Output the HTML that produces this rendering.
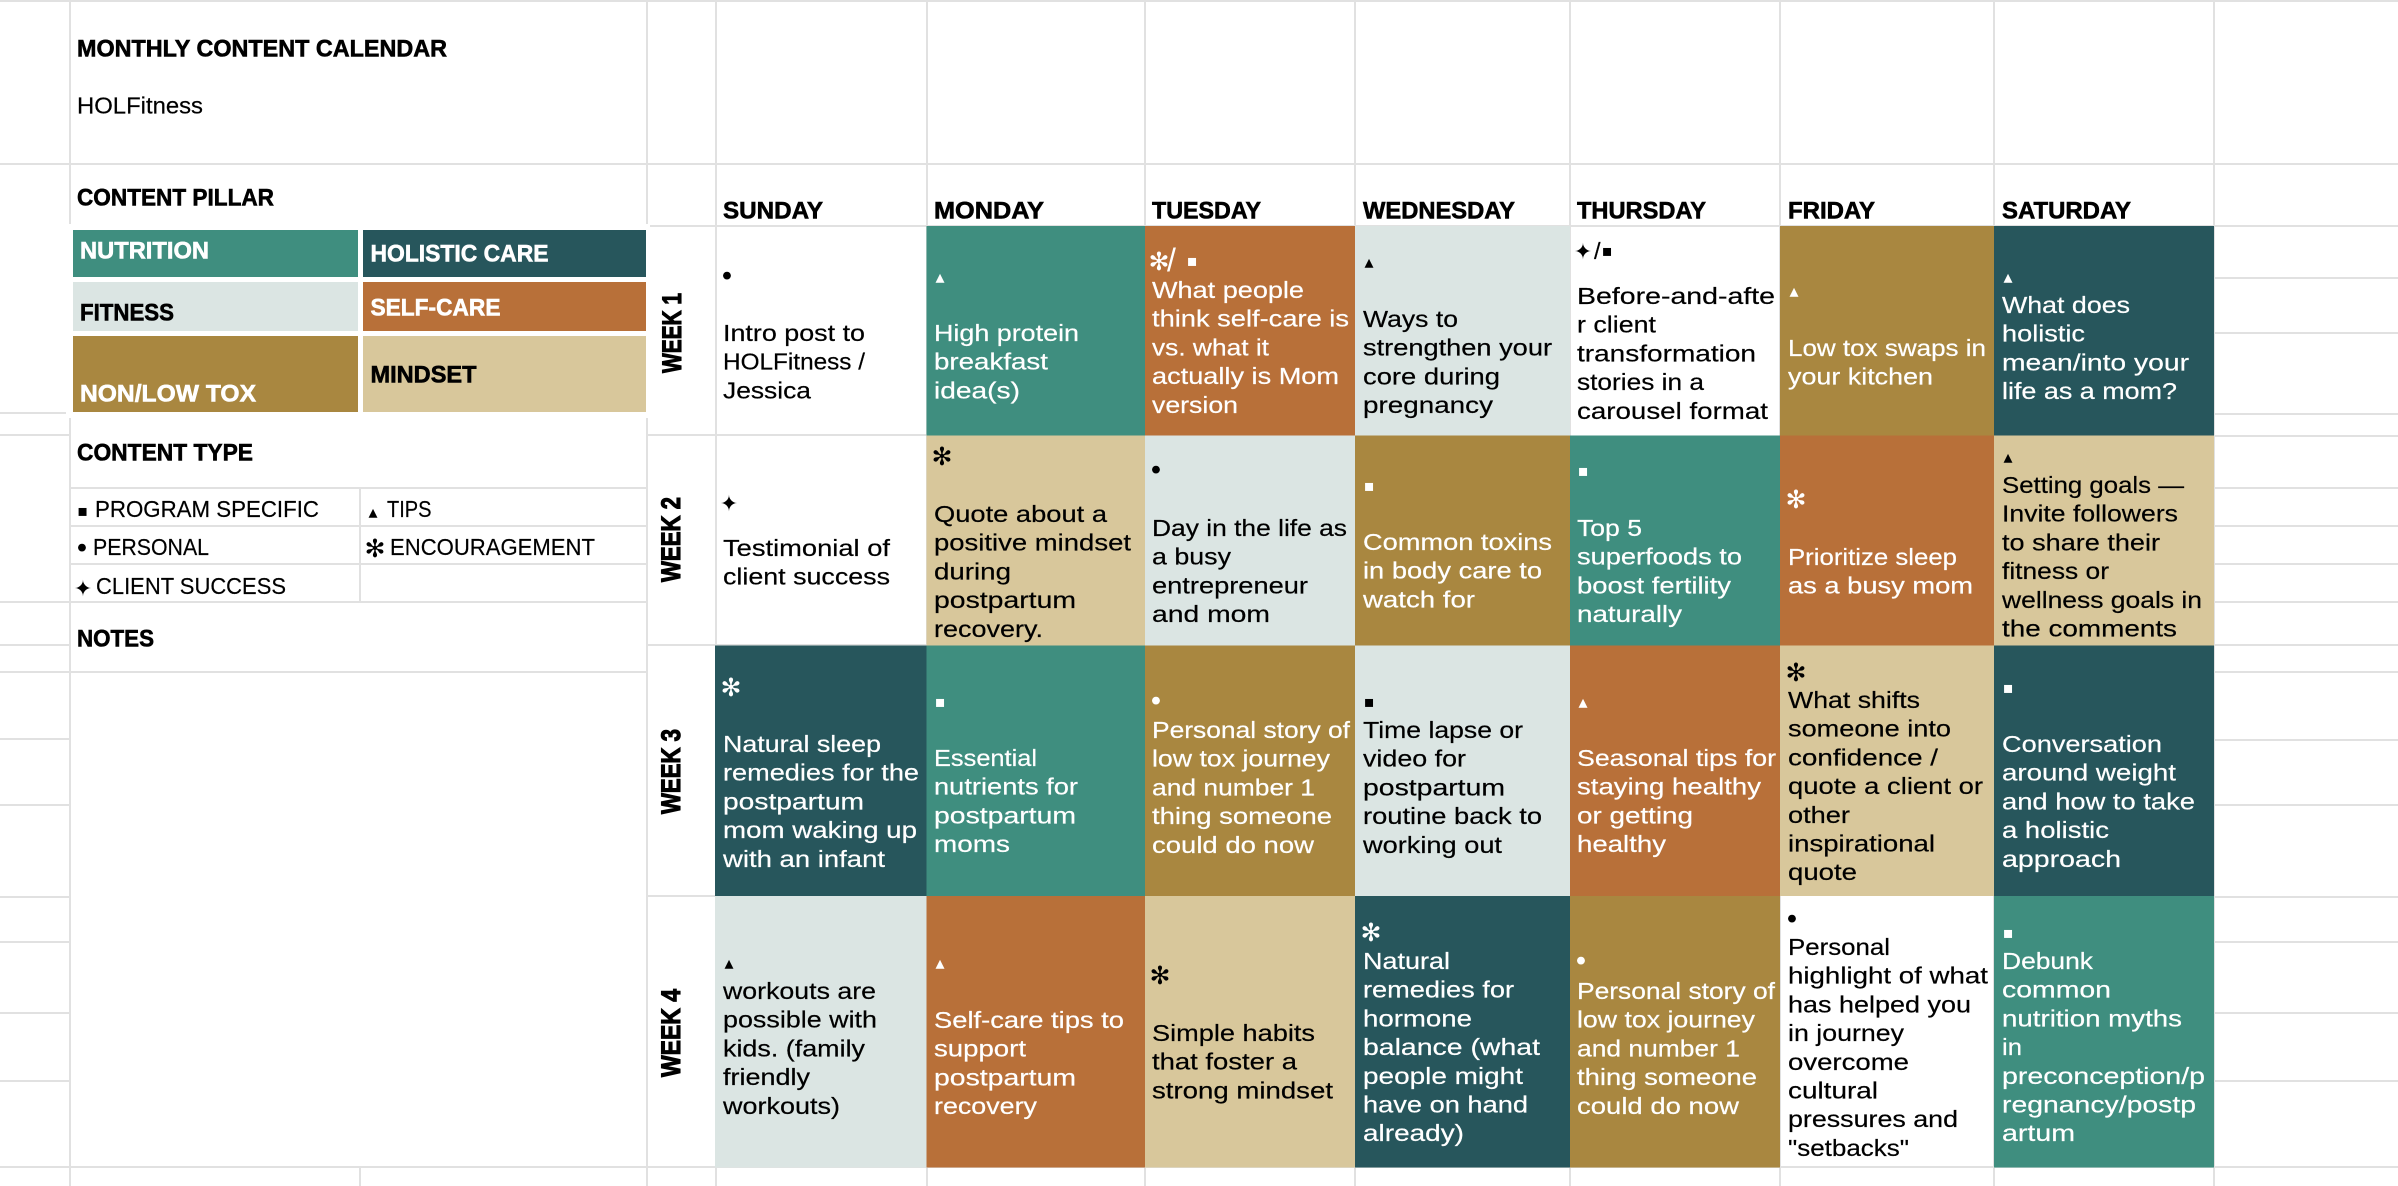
<!DOCTYPE html>
<html lang="en">
<head>
<meta charset="utf-8">
<title>Monthly Content Calendar - HOLFitness</title>
<style>
html,body{margin:0;padding:0;background:#fff;width:2398px;height:1186px;overflow:hidden}
svg{display:block;font-family:"Liberation Sans","DejaVu Sans",sans-serif}
.g line{stroke:#e1e1e1;stroke-width:2}
.b{font-size:23.5px;fill:#000;stroke:#000;stroke-width:.2px}
.w{font-size:23.5px;fill:#fff;stroke:#fff;stroke-width:.2px}
.h{font-size:24px;font-weight:700;fill:#000;stroke:#000;stroke-width:.6px}
.hw{font-size:24px;font-weight:700;fill:#fff;stroke:#fff;stroke-width:.6px}
.wk{font-size:27px;font-weight:700;fill:#000;stroke:#000;stroke-width:1.1px}
.i{font-family:"DejaVu Sans",sans-serif;text-anchor:middle;stroke:none}
.sq{font-size:16px;transform:translateY(-3px)}
.tr{font-size:18px;transform:translateY(-2px)}
.dt{font-size:27px;transform:translateY(3.5px)}
.st{font-size:22px;transform:translateY(2px)}
.as{font-size:25px;transform:translateY(1px)}
.sl{font-size:32px;stroke:none}
.k{fill:#000}.f{fill:#fff}
.teal{fill:#3f8e7f}.dark{fill:#27565c}.rust{fill:#b87039}.mist{fill:#dbe5e3}.gold{fill:#a98740}.sand{fill:#d8c79b}.white{fill:#fff}
</style>
</head>
<body>
<svg width="2398" height="1186" viewBox="0 0 2398 1186" xmlns="http://www.w3.org/2000/svg">

<g class="g">
<line x1="0" y1="1" x2="2398" y2="1"/>
<line x1="0" y1="164" x2="2398" y2="164"/>
<line x1="647" y1="226" x2="2398" y2="226"/>
<line x1="0" y1="1167" x2="2398" y2="1167"/>
<line x1="70" y1="0" x2="70" y2="224"/><line x1="70" y1="418" x2="70" y2="1186"/>
<line x1="647" y1="0" x2="647" y2="224"/><line x1="647" y1="418" x2="647" y2="1186"/>
<line x1="716" y1="0" x2="716" y2="1186"/>
<line x1="360" y1="488" x2="360" y2="602"/><line x1="360" y1="1167" x2="360" y2="1186"/>
<line x1="927" y1="0" x2="927" y2="1186"/><line x1="1145" y1="0" x2="1145" y2="1186"/>
<line x1="1355" y1="0" x2="1355" y2="1186"/><line x1="1570" y1="0" x2="1570" y2="1186"/>
<line x1="1780" y1="0" x2="1780" y2="1186"/><line x1="1994" y1="0" x2="1994" y2="1186"/>
<line x1="2214" y1="0" x2="2214" y2="1186"/>
<line x1="0" y1="413" x2="66" y2="413"/><line x1="0" y1="435" x2="70" y2="435"/><line x1="0" y1="602" x2="70" y2="602"/>
<line x1="0" y1="645" x2="70" y2="645"/><line x1="0" y1="672" x2="70" y2="672"/><line x1="0" y1="739" x2="70" y2="739"/>
<line x1="0" y1="805" x2="70" y2="805"/><line x1="0" y1="897" x2="70" y2="897"/><line x1="0" y1="942" x2="70" y2="942"/>
<line x1="0" y1="1013" x2="70" y2="1013"/><line x1="0" y1="1081" x2="70" y2="1081"/>
<line x1="70" y1="488" x2="647" y2="488"/><line x1="70" y1="526" x2="647" y2="526"/><line x1="70" y1="564" x2="647" y2="564"/>
<line x1="70" y1="602" x2="647" y2="602"/><line x1="70" y1="672" x2="647" y2="672"/>
<line x1="647" y1="435" x2="927" y2="435"/><line x1="647" y1="645" x2="927" y2="645"/><line x1="647" y1="896" x2="716" y2="896"/>
<line x1="2214" y1="278" x2="2398" y2="278"/><line x1="2214" y1="333" x2="2398" y2="333"/><line x1="2214" y1="414" x2="2398" y2="414"/>
<line x1="2214" y1="436" x2="2398" y2="436"/><line x1="2214" y1="488" x2="2398" y2="488"/><line x1="2214" y1="526" x2="2398" y2="526"/>
<line x1="2214" y1="564" x2="2398" y2="564"/><line x1="2214" y1="602" x2="2398" y2="602"/><line x1="2214" y1="645" x2="2398" y2="645"/>
<line x1="2214" y1="672" x2="2398" y2="672"/><line x1="2214" y1="740" x2="2398" y2="740"/><line x1="2214" y1="805" x2="2398" y2="805"/>
<line x1="2214" y1="897" x2="2398" y2="897"/><line x1="2214" y1="942" x2="2398" y2="942"/><line x1="2214" y1="1013" x2="2398" y2="1013"/>
<line x1="2214" y1="1081" x2="2398" y2="1081"/>
</g>

<!-- Left panel -->
<text class="h" x="77" y="56.5" textLength="370" lengthAdjust="spacingAndGlyphs">MONTHLY CONTENT CALENDAR</text>
<text class="b" x="77" y="113.5" textLength="126" lengthAdjust="spacingAndGlyphs">HOLFitness</text>
<text class="h" x="77" y="205.5" textLength="197" lengthAdjust="spacingAndGlyphs">CONTENT PILLAR</text>

<rect x="66" y="224" width="584" height="194" class="white"/>
<rect x="73" y="230" width="285" height="47" class="teal"/>
<text class="hw" x="80" y="258.5" textLength="129" lengthAdjust="spacingAndGlyphs">NUTRITION</text>
<rect x="363" y="230" width="283" height="47" class="dark"/>
<text class="hw" x="370.5" y="261.5" textLength="178" lengthAdjust="spacingAndGlyphs">HOLISTIC CARE</text>
<rect x="73" y="282" width="285" height="49" class="mist"/>
<text class="h" x="80" y="320.5" textLength="94" lengthAdjust="spacingAndGlyphs">FITNESS</text>
<rect x="363" y="282" width="283" height="49" class="rust"/>
<text class="hw" x="370.5" y="315.5" textLength="130" lengthAdjust="spacingAndGlyphs">SELF-CARE</text>
<rect x="73" y="336" width="285" height="76" class="gold"/>
<text class="hw" x="80" y="401.5" textLength="176" lengthAdjust="spacingAndGlyphs">NON/LOW TOX</text>
<rect x="363" y="336" width="283" height="76" class="sand"/>
<text class="h" x="370.5" y="382.5" textLength="106" lengthAdjust="spacingAndGlyphs">MINDSET</text>

<text class="h" x="77" y="460.5" textLength="176" lengthAdjust="spacingAndGlyphs">CONTENT TYPE</text>
<text class="i sq k" x="82.6" y="519">▪</text>
<text class="b" x="95" y="517" textLength="224" lengthAdjust="spacingAndGlyphs">PROGRAM SPECIFIC</text>
<text class="i tr k" x="373" y="520">▴</text>
<text class="b" x="387" y="517" textLength="44.5" lengthAdjust="spacingAndGlyphs">TIPS</text>
<text class="i dt k" x="82" y="554">•</text>
<text class="b" x="93" y="555" textLength="116" lengthAdjust="spacingAndGlyphs">PERSONAL</text>
<text class="i as k" x="375" y="556">✻</text>
<text class="b" x="390" y="555" textLength="205" lengthAdjust="spacingAndGlyphs">ENCOURAGEMENT</text>
<text class="i st k" x="83" y="594">✦</text>
<text class="b" x="96" y="594" textLength="190" lengthAdjust="spacingAndGlyphs">CLIENT SUCCESS</text>
<text class="h" x="77" y="646.5" textLength="77" lengthAdjust="spacingAndGlyphs">NOTES</text>

<!-- Day headers -->
<text class="h" x="723" y="218.5" textLength="100" lengthAdjust="spacingAndGlyphs">SUNDAY</text>
<text class="h" x="934" y="218.5" textLength="110" lengthAdjust="spacingAndGlyphs">MONDAY</text>
<text class="h" x="1152" y="218.5" textLength="109" lengthAdjust="spacingAndGlyphs">TUESDAY</text>
<text class="h" x="1363" y="218.5" textLength="152" lengthAdjust="spacingAndGlyphs">WEDNESDAY</text>
<text class="h" x="1577" y="218.5" textLength="129" lengthAdjust="spacingAndGlyphs">THURSDAY</text>
<text class="h" x="1788" y="218.5" textLength="87" lengthAdjust="spacingAndGlyphs">FRIDAY</text>
<text class="h" x="2002" y="218.5" textLength="129" lengthAdjust="spacingAndGlyphs">SATURDAY</text>

<!-- Week labels -->
<text class="wk" transform="translate(681,373) rotate(-90)" textLength="80" lengthAdjust="spacingAndGlyphs">WEEK 1</text>
<text class="wk" transform="translate(680,582) rotate(-90)" textLength="85" lengthAdjust="spacingAndGlyphs">WEEK 2</text>
<text class="wk" transform="translate(680,814) rotate(-90)" textLength="85" lengthAdjust="spacingAndGlyphs">WEEK 3</text>
<text class="wk" transform="translate(680,1077) rotate(-90)" textLength="88" lengthAdjust="spacingAndGlyphs">WEEK 4</text>

<!-- WEEK 1 -->
<rect x="926.5" y="226" width="218.5" height="209.5" class="teal"/>
<rect x="1145" y="226" width="210" height="209.5" class="rust"/>
<rect x="1355" y="226" width="215" height="209.5" class="mist"/>
<rect x="1780" y="226" width="214" height="209.5" class="gold"/>
<rect x="1994" y="226" width="220" height="209.5" class="dark"/>

<text class="i dt k" x="727" y="282">•</text>
<g transform="translate(723,341)" class="b">
<text y="0" textLength="142" lengthAdjust="spacingAndGlyphs">Intro post to</text>
<text y="28.7" textLength="142" lengthAdjust="spacingAndGlyphs">HOLFitness /</text>
<text y="57.4" textLength="88" lengthAdjust="spacingAndGlyphs">Jessica</text>
</g>
<text class="i tr f" x="940" y="285">▴</text>
<g transform="translate(934,341)" class="w">
<text y="0" textLength="145" lengthAdjust="spacingAndGlyphs">High protein</text>
<text y="28.7" textLength="114" lengthAdjust="spacingAndGlyphs">breakfast</text>
<text y="57.4" textLength="86" lengthAdjust="spacingAndGlyphs">idea(s)</text>
</g>
<text class="i as f" x="1159" y="269">✻</text>
<text class="w sl" x="1167" y="271">/</text>
<text class="i sq f" x="1192" y="269">▪</text>
<g transform="translate(1152,298)" class="w">
<text y="0" textLength="152" lengthAdjust="spacingAndGlyphs">What people</text>
<text y="28.7" textLength="197" lengthAdjust="spacingAndGlyphs">think self-care is</text>
<text y="57.4" textLength="117" lengthAdjust="spacingAndGlyphs">vs. what it</text>
<text y="86.1" textLength="187" lengthAdjust="spacingAndGlyphs">actually is Mom</text>
<text y="114.8" textLength="86" lengthAdjust="spacingAndGlyphs">version</text>
</g>
<text class="i tr k" x="1369" y="270">▴</text>
<g transform="translate(1363,327)" class="b">
<text y="0" textLength="95" lengthAdjust="spacingAndGlyphs">Ways to</text>
<text y="28.7" textLength="189" lengthAdjust="spacingAndGlyphs">strengthen your</text>
<text y="57.4" textLength="137" lengthAdjust="spacingAndGlyphs">core during</text>
<text y="86.1" textLength="130" lengthAdjust="spacingAndGlyphs">pregnancy</text>
</g>
<text class="i st k" x="1583" y="257">✦</text>
<text class="b" x="1594" y="259">/</text>
<text class="i sq k" x="1607" y="259">▪</text>
<g transform="translate(1577,304)" class="b">
<text y="0" textLength="198" lengthAdjust="spacingAndGlyphs">Before-and-afte</text>
<text y="28.7" textLength="79" lengthAdjust="spacingAndGlyphs">r client</text>
<text y="57.4" textLength="179" lengthAdjust="spacingAndGlyphs">transformation</text>
<text y="86.1" textLength="127" lengthAdjust="spacingAndGlyphs">stories in a</text>
<text y="114.8" textLength="191" lengthAdjust="spacingAndGlyphs">carousel format</text>
</g>
<text class="i tr f" x="1794" y="299">▴</text>
<g transform="translate(1788,356)" class="w">
<text y="0" textLength="198" lengthAdjust="spacingAndGlyphs">Low tox swaps in</text>
<text y="28.7" textLength="145" lengthAdjust="spacingAndGlyphs">your kitchen</text>
</g>
<text class="i tr f" x="2008" y="285">▴</text>
<g transform="translate(2002,313)" class="w">
<text y="0" textLength="128" lengthAdjust="spacingAndGlyphs">What does</text>
<text y="28.7" textLength="83" lengthAdjust="spacingAndGlyphs">holistic</text>
<text y="57.4" textLength="187" lengthAdjust="spacingAndGlyphs">mean/into your</text>
<text y="86.1" textLength="175" lengthAdjust="spacingAndGlyphs">life as a mom?</text>
</g>

<!-- WEEK 2 -->
<rect x="926.5" y="435.5" width="218.5" height="210" class="sand"/>
<rect x="1145" y="435.5" width="210" height="210" class="mist"/>
<rect x="1355" y="435.5" width="215" height="210" class="gold"/>
<rect x="1570" y="435.5" width="210" height="210" class="teal"/>
<rect x="1780" y="435.5" width="214" height="210" class="rust"/>
<rect x="1994" y="435.5" width="220" height="210" class="sand"/>

<text class="i st k" x="729" y="509">✦</text>
<g transform="translate(723,556)" class="b">
<text y="0" textLength="167" lengthAdjust="spacingAndGlyphs">Testimonial of</text>
<text y="28.7" textLength="167" lengthAdjust="spacingAndGlyphs">client success</text>
</g>
<text class="i as k" x="942" y="464">✻</text>
<g transform="translate(934,522)" class="b">
<text y="0" textLength="173" lengthAdjust="spacingAndGlyphs">Quote about a</text>
<text y="28.7" textLength="197" lengthAdjust="spacingAndGlyphs">positive mindset</text>
<text y="57.4" textLength="77" lengthAdjust="spacingAndGlyphs">during</text>
<text y="86.1" textLength="142" lengthAdjust="spacingAndGlyphs">postpartum</text>
<text y="114.8" textLength="109" lengthAdjust="spacingAndGlyphs">recovery.</text>
</g>
<text class="i dt k" x="1156" y="476">•</text>
<g transform="translate(1152,536)" class="b">
<text y="0" textLength="195" lengthAdjust="spacingAndGlyphs">Day in the life as</text>
<text y="28.7" textLength="79" lengthAdjust="spacingAndGlyphs">a busy</text>
<text y="57.4" textLength="156" lengthAdjust="spacingAndGlyphs">entrepreneur</text>
<text y="86.1" textLength="118" lengthAdjust="spacingAndGlyphs">and mom</text>
</g>
<text class="i sq f" x="1369" y="494">▪</text>
<g transform="translate(1363,550)" class="w">
<text y="0" textLength="189" lengthAdjust="spacingAndGlyphs">Common toxins</text>
<text y="28.7" textLength="179" lengthAdjust="spacingAndGlyphs">in body care to</text>
<text y="57.4" textLength="112" lengthAdjust="spacingAndGlyphs">watch for</text>
</g>
<text class="i sq f" x="1583" y="479">▪</text>
<g transform="translate(1577,536)" class="w">
<text y="0" textLength="65" lengthAdjust="spacingAndGlyphs">Top 5</text>
<text y="28.7" textLength="165" lengthAdjust="spacingAndGlyphs">superfoods to</text>
<text y="57.4" textLength="154" lengthAdjust="spacingAndGlyphs">boost fertility</text>
<text y="86.1" textLength="105" lengthAdjust="spacingAndGlyphs">naturally</text>
</g>
<text class="i as f" x="1796" y="507">✻</text>
<g transform="translate(1788,565)" class="w">
<text y="0" textLength="169" lengthAdjust="spacingAndGlyphs">Prioritize sleep</text>
<text y="28.7" textLength="185" lengthAdjust="spacingAndGlyphs">as a busy mom</text>
</g>
<text class="i tr k" x="2008" y="465">▴</text>
<g transform="translate(2002,493)" class="b">
<text y="0" textLength="182" lengthAdjust="spacingAndGlyphs">Setting goals —</text>
<text y="28.7" textLength="176" lengthAdjust="spacingAndGlyphs">Invite followers</text>
<text y="57.4" textLength="158" lengthAdjust="spacingAndGlyphs">to share their</text>
<text y="86.1" textLength="107" lengthAdjust="spacingAndGlyphs">fitness or</text>
<text y="114.8" textLength="200" lengthAdjust="spacingAndGlyphs">wellness goals in</text>
<text y="143.5" textLength="175" lengthAdjust="spacingAndGlyphs">the comments</text>
</g>

<!-- WEEK 3 -->
<rect x="715" y="645.5" width="211.5" height="250.5" class="dark"/>
<rect x="926.5" y="645.5" width="218.5" height="250.5" class="teal"/>
<rect x="1145" y="645.5" width="210" height="250.5" class="gold"/>
<rect x="1355" y="645.5" width="215" height="250.5" class="mist"/>
<rect x="1570" y="645.5" width="210" height="250.5" class="rust"/>
<rect x="1780" y="645.5" width="214" height="250.5" class="sand"/>
<rect x="1994" y="645.5" width="220" height="250.5" class="dark"/>

<text class="i as f" x="731" y="695">✻</text>
<g transform="translate(723,752)" class="w">
<text y="0" textLength="158" lengthAdjust="spacingAndGlyphs">Natural sleep</text>
<text y="28.7" textLength="196" lengthAdjust="spacingAndGlyphs">remedies for the</text>
<text y="57.4" textLength="141" lengthAdjust="spacingAndGlyphs">postpartum</text>
<text y="86.1" textLength="194" lengthAdjust="spacingAndGlyphs">mom waking up</text>
<text y="114.8" textLength="162" lengthAdjust="spacingAndGlyphs">with an infant</text>
</g>
<text class="i sq f" x="940" y="710">▪</text>
<g transform="translate(934,766)" class="w">
<text y="0" textLength="103" lengthAdjust="spacingAndGlyphs">Essential</text>
<text y="28.7" textLength="144" lengthAdjust="spacingAndGlyphs">nutrients for</text>
<text y="57.4" textLength="142" lengthAdjust="spacingAndGlyphs">postpartum</text>
<text y="86.1" textLength="76" lengthAdjust="spacingAndGlyphs">moms</text>
</g>
<text class="i dt f" x="1156" y="707">•</text>
<g transform="translate(1152,738)" class="w">
<text y="0" textLength="198" lengthAdjust="spacingAndGlyphs">Personal story of</text>
<text y="28.7" textLength="178" lengthAdjust="spacingAndGlyphs">low tox journey</text>
<text y="57.4" textLength="163" lengthAdjust="spacingAndGlyphs">and number 1</text>
<text y="86.1" textLength="180" lengthAdjust="spacingAndGlyphs">thing someone</text>
<text y="114.8" textLength="162" lengthAdjust="spacingAndGlyphs">could do now</text>
</g>
<text class="i sq k" x="1369" y="710">▪</text>
<g transform="translate(1363,738)" class="b">
<text y="0" textLength="160" lengthAdjust="spacingAndGlyphs">Time lapse or</text>
<text y="28.7" textLength="103" lengthAdjust="spacingAndGlyphs">video for</text>
<text y="57.4" textLength="142" lengthAdjust="spacingAndGlyphs">postpartum</text>
<text y="86.1" textLength="179" lengthAdjust="spacingAndGlyphs">routine back to</text>
<text y="114.8" textLength="139" lengthAdjust="spacingAndGlyphs">working out</text>
</g>
<text class="i tr f" x="1583" y="710">▴</text>
<g transform="translate(1577,766)" class="w">
<text y="0" textLength="199" lengthAdjust="spacingAndGlyphs">Seasonal tips for</text>
<text y="28.7" textLength="184" lengthAdjust="spacingAndGlyphs">staying healthy</text>
<text y="57.4" textLength="116" lengthAdjust="spacingAndGlyphs">or getting</text>
<text y="86.1" textLength="89" lengthAdjust="spacingAndGlyphs">healthy</text>
</g>
<text class="i as k" x="1796" y="680">✻</text>
<g transform="translate(1788,708)" class="b">
<text y="0" textLength="132" lengthAdjust="spacingAndGlyphs">What shifts</text>
<text y="28.7" textLength="163" lengthAdjust="spacingAndGlyphs">someone into</text>
<text y="57.4" textLength="150" lengthAdjust="spacingAndGlyphs">confidence /</text>
<text y="86.1" textLength="195" lengthAdjust="spacingAndGlyphs">quote a client or</text>
<text y="114.8" textLength="62" lengthAdjust="spacingAndGlyphs">other</text>
<text y="143.5" textLength="147" lengthAdjust="spacingAndGlyphs">inspirational</text>
<text y="172.2" textLength="69" lengthAdjust="spacingAndGlyphs">quote</text>
</g>
<text class="i sq f" x="2008" y="696">▪</text>
<g transform="translate(2002,752)" class="w">
<text y="0" textLength="160" lengthAdjust="spacingAndGlyphs">Conversation</text>
<text y="28.7" textLength="174" lengthAdjust="spacingAndGlyphs">around weight</text>
<text y="57.4" textLength="193" lengthAdjust="spacingAndGlyphs">and how to take</text>
<text y="86.1" textLength="107" lengthAdjust="spacingAndGlyphs">a holistic</text>
<text y="114.8" textLength="119" lengthAdjust="spacingAndGlyphs">approach</text>
</g>

<!-- WEEK 4 -->
<rect x="715" y="896" width="211.5" height="271.5" class="mist"/>
<rect x="926.5" y="896" width="218.5" height="271.5" class="rust"/>
<rect x="1145" y="896" width="210" height="271.5" class="sand"/>
<rect x="1355" y="896" width="215" height="271.5" class="dark"/>
<rect x="1570" y="896" width="210" height="271.5" class="gold"/>
<rect x="1994" y="896" width="220" height="271.5" class="teal"/>

<text class="i tr k" x="729" y="971">▴</text>
<g transform="translate(723,999)" class="b">
<text y="0" textLength="153" lengthAdjust="spacingAndGlyphs">workouts are</text>
<text y="28.7" textLength="154" lengthAdjust="spacingAndGlyphs">possible with</text>
<text y="57.4" textLength="142" lengthAdjust="spacingAndGlyphs">kids. (family</text>
<text y="86.1" textLength="87" lengthAdjust="spacingAndGlyphs">friendly</text>
<text y="114.8" textLength="117" lengthAdjust="spacingAndGlyphs">workouts)</text>
</g>
<text class="i tr f" x="940" y="971">▴</text>
<g transform="translate(934,1028)" class="w">
<text y="0" textLength="190" lengthAdjust="spacingAndGlyphs">Self-care tips to</text>
<text y="28.7" textLength="92" lengthAdjust="spacingAndGlyphs">support</text>
<text y="57.4" textLength="142" lengthAdjust="spacingAndGlyphs">postpartum</text>
<text y="86.1" textLength="103" lengthAdjust="spacingAndGlyphs">recovery</text>
</g>
<text class="i as k" x="1160" y="983">✻</text>
<g transform="translate(1152,1041)" class="b">
<text y="0" textLength="163" lengthAdjust="spacingAndGlyphs">Simple habits</text>
<text y="28.7" textLength="145" lengthAdjust="spacingAndGlyphs">that foster a</text>
<text y="57.4" textLength="181" lengthAdjust="spacingAndGlyphs">strong mindset</text>
</g>
<text class="i as f" x="1371" y="940">✻</text>
<g transform="translate(1363,969)" class="w">
<text y="0" textLength="87" lengthAdjust="spacingAndGlyphs">Natural</text>
<text y="28.7" textLength="151" lengthAdjust="spacingAndGlyphs">remedies for</text>
<text y="57.4" textLength="109" lengthAdjust="spacingAndGlyphs">hormone</text>
<text y="86.1" textLength="177" lengthAdjust="spacingAndGlyphs">balance (what</text>
<text y="114.8" textLength="160" lengthAdjust="spacingAndGlyphs">people might</text>
<text y="143.5" textLength="165" lengthAdjust="spacingAndGlyphs">have on hand</text>
<text y="172.2" textLength="101" lengthAdjust="spacingAndGlyphs">already)</text>
</g>
<text class="i dt f" x="1581" y="967">•</text>
<g transform="translate(1577,999)" class="w">
<text y="0" textLength="198" lengthAdjust="spacingAndGlyphs">Personal story of</text>
<text y="28.7" textLength="178" lengthAdjust="spacingAndGlyphs">low tox journey</text>
<text y="57.4" textLength="163" lengthAdjust="spacingAndGlyphs">and number 1</text>
<text y="86.1" textLength="180" lengthAdjust="spacingAndGlyphs">thing someone</text>
<text y="114.8" textLength="162" lengthAdjust="spacingAndGlyphs">could do now</text>
</g>
<text class="i dt k" x="1792" y="925">•</text>
<g transform="translate(1788,955)" class="b">
<text y="0" textLength="102" lengthAdjust="spacingAndGlyphs">Personal</text>
<text y="28.7" textLength="200" lengthAdjust="spacingAndGlyphs">highlight of what</text>
<text y="57.4" textLength="183" lengthAdjust="spacingAndGlyphs">has helped you</text>
<text y="86.1" textLength="116" lengthAdjust="spacingAndGlyphs">in journey</text>
<text y="114.8" textLength="121" lengthAdjust="spacingAndGlyphs">overcome</text>
<text y="143.5" textLength="90" lengthAdjust="spacingAndGlyphs">cultural</text>
<text y="172.2" textLength="170" lengthAdjust="spacingAndGlyphs">pressures and</text>
<text y="200.9" textLength="121" lengthAdjust="spacingAndGlyphs">"setbacks"</text>
</g>
<text class="i sq f" x="2008" y="941">▪</text>
<g transform="translate(2002,969)" class="w">
<text y="0" textLength="91" lengthAdjust="spacingAndGlyphs">Debunk</text>
<text y="28.7" textLength="109" lengthAdjust="spacingAndGlyphs">common</text>
<text y="57.4" textLength="180" lengthAdjust="spacingAndGlyphs">nutrition myths</text>
<text y="86.1" textLength="20" lengthAdjust="spacingAndGlyphs">in</text>
<text y="114.8" textLength="203" lengthAdjust="spacingAndGlyphs">preconception/p</text>
<text y="143.5" textLength="194" lengthAdjust="spacingAndGlyphs">regnancy/postp</text>
<text y="172.2" textLength="73" lengthAdjust="spacingAndGlyphs">artum</text>
</g>
</svg>
</body>
</html>
